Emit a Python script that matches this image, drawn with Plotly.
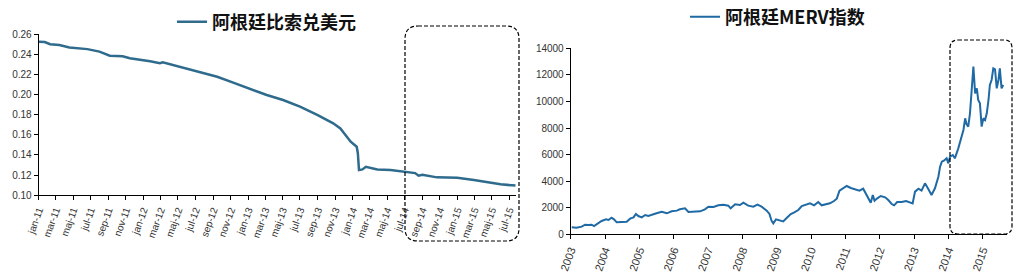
import plotly.graph_objects as go

W, H = 1020, 280

# ---------------- data ----------------
fx_dates = ["2011-01-01", "2011-01-22", "2011-02-10", "2011-03-14", "2011-04-18",
            "2011-06-20", "2011-08-01", "2011-09-06", "2011-10-21", "2011-11-15",
            "2012-01-25", "2012-02-28", "2012-03-09", "2012-05-07", "2012-07-16",
            "2012-09-15", "2012-11-10", "2013-01-10", "2013-03-07", "2013-05-03",
            "2013-07-01", "2013-09-01", "2013-10-25", "2013-11-19", "2013-12-17",
            "2013-12-25", "2014-01-15", "2014-01-19", "2014-01-23", "2014-02-04",
            "2014-02-16", "2014-03-13", "2014-03-28", "2014-05-13", "2014-06-16",
            "2014-07-10", "2014-08-07", "2014-08-19", "2014-09-01", "2014-10-22",
            "2015-01-01", "2015-02-28", "2015-04-28", "2015-06-01", "2015-07-24"]
fx_values = [0.2524, 0.2520, 0.2498, 0.2490, 0.2466,
             0.2450, 0.2425, 0.2385, 0.2380, 0.2360,
             0.2330, 0.2310, 0.2320, 0.2276, 0.2226,
             0.2176, 0.2117, 0.2051, 0.1995, 0.1945,
             0.1879, 0.1796, 0.1714, 0.1664, 0.1568,
             0.1532, 0.1482, 0.1417, 0.1250, 0.1257,
             0.1283, 0.1270, 0.1257, 0.1250, 0.1238,
             0.1234, 0.1220, 0.1194, 0.1204, 0.1178,
             0.1174, 0.1152, 0.1129, 0.1109, 0.1096]

fx_tickvals = ["2011-01-01", "2011-03-01", "2011-05-01", "2011-07-01", "2011-09-01", "2011-11-01",
               "2012-01-01", "2012-03-01", "2012-05-01", "2012-07-01", "2012-09-01", "2012-11-01",
               "2013-01-01", "2013-03-01", "2013-05-01", "2013-07-01", "2013-09-01", "2013-11-01",
               "2014-01-01", "2014-03-01", "2014-05-01", "2014-07-01", "2014-09-01", "2014-11-01",
               "2015-01-01", "2015-03-01", "2015-05-01", "2015-07-01"]
fx_ticktext = ["jan-11", "mar-11", "maj-11", "jul-11", "sep-11", "nov-11",
               "jan-12", "mar-12", "maj-12", "jul-12", "sep-12", "nov-12",
               "jan-13", "mar-13", "maj-13", "jul-13", "sep-13", "nov-13",
               "jan-14", "mar-14", "maj-14", "jul-14", "sep-14", "nov-14",
               "jan-15", "mar-15", "maj-15", "jul-15"]

merv_years = [2003.03, 2003.17, 2003.32, 2003.42, 2003.51, 2003.61, 2003.68, 2003.81, 2003.90,
              2004.03, 2004.10, 2004.19, 2004.26, 2004.34, 2004.49, 2004.63, 2004.73, 2004.83,
              2004.90, 2004.97, 2005.07, 2005.17, 2005.26, 2005.36, 2005.50, 2005.65, 2005.80,
              2005.94, 2006.09, 2006.18, 2006.33, 2006.43, 2006.57, 2006.77, 2006.91, 2007.01,
              2007.16, 2007.30, 2007.45, 2007.59, 2007.66, 2007.79, 2007.93, 2008.03, 2008.17,
              2008.32, 2008.44, 2008.56, 2008.71, 2008.79, 2008.85, 2008.90, 2008.98, 2009.08,
              2009.19, 2009.29, 2009.41, 2009.50, 2009.63, 2009.73, 2009.85, 2009.97, 2010.09,
              2010.21, 2010.31, 2010.44, 2010.55, 2010.67, 2010.75, 2010.83, 2010.92, 2011.04,
              2011.16, 2011.28, 2011.41, 2011.52, 2011.60, 2011.67, 2011.74, 2011.80, 2011.85,
              2011.93, 2012.03, 2012.16, 2012.25, 2012.35, 2012.42, 2012.51, 2012.64, 2012.77,
              2012.88, 2012.96, 2013.03, 2013.13, 2013.22, 2013.32, 2013.42, 2013.51, 2013.61,
              2013.71, 2013.76, 2013.81, 2013.87, 2013.95, 2014.00, 2014.05, 2014.13, 2014.19,
              2014.29, 2014.39, 2014.44, 2014.49, 2014.53, 2014.58, 2014.63, 2014.68, 2014.73,
              2014.78, 2014.83, 2014.87, 2014.92, 2014.97, 2015.02, 2015.07, 2015.12, 2015.17,
              2015.21, 2015.26, 2015.31, 2015.36, 2015.41, 2015.46, 2015.50, 2015.55, 2015.60]
merv_values = [525, 500, 575, 725, 700, 725, 625, 875, 1000,
               1125, 1075, 1250, 1125, 900, 925, 950, 1175, 1275,
               1530, 1375, 1275, 1450, 1375, 1475, 1580, 1700, 1580,
               1730, 1780, 1880, 1950, 1680, 1700, 1730, 1880, 2080,
               2055, 2180, 2230, 2155, 1955, 2255, 2205, 2380, 2155,
               2080, 2230, 2080, 1780, 1530, 1025, 825, 1125, 1025,
               975, 1225, 1530, 1630, 1830, 2130, 2205, 2330, 2180,
               2430, 2180, 2280, 2330, 2505, 2680, 3285, 3460, 3635,
               3485, 3385, 3285, 3435, 3085, 2707, 2380, 2958, 2530,
               2707, 2883, 2783, 2582, 2280, 2180, 2430, 2430, 2505,
               2380, 2330, 3210, 3435, 3285, 3837, 3385, 2958, 3460,
               4338, 5091, 5467, 5543, 5718, 5342, 5844, 5969, 5718,
               6471, 7349, 7851, 8729, 8303, 8102, 9106, 10862, 12618,
               10611, 10987, 10109, 9858, 8102, 8729, 8604, 9106, 10109,
               11238, 11615, 12493, 12417, 10987, 11615, 12493, 10987, 11238]

merv_tickvals = [2003, 2004, 2005, 2006, 2007, 2008, 2009, 2010, 2011, 2012, 2013, 2014, 2015]
merv_ticktext = ["2003", "2004", "2005", "2006", "2007", "2008", "2009",
                 "2010", "2011", "2012", "2013", "2014", "2015"]

# ---------------- layout helpers (pixel -> paper) ----------------
def px(x):
    return x / W

def py(y):
    return 1 - y / H

def rounded_box(x0, y0, x1, y1, r):
    rx, ry = r / W, r / H
    X0, X1 = px(x0), px(x1)
    Y0, Y1 = py(y0), py(y1)  # Y0 top, Y1 bottom
    return (f"M {X0+rx},{Y0} L {X1-rx},{Y0} Q {X1},{Y0} {X1},{Y0-ry} "
            f"L {X1},{Y1+ry} Q {X1},{Y1} {X1-rx},{Y1} "
            f"L {X0+rx},{Y1} Q {X0},{Y1} {X0},{Y1+ry} "
            f"L {X0},{Y0-ry} Q {X0},{Y0} {X0+rx},{Y0} Z")

fig = go.Figure()
fig.add_trace(go.Scatter(x=fx_dates, y=fx_values, mode="lines", name="阿根廷比索兑美元",
                         line=dict(color="#2e6b8c", width=2.5), xaxis="x", yaxis="y",
                         legend="legend"))
fig.add_trace(go.Scatter(x=merv_years, y=merv_values, mode="lines", name="阿根廷MERV指数",
                         line=dict(color="#1f6aa5", width=2), xaxis="x2", yaxis="y2",
                         legend="legend2"))

tickfont = dict(family="Liberation Sans, Arial", size=10, color="#333333")
axis_common = dict(showline=True, linecolor="black", linewidth=1, ticks="outside",
                   ticklen=4, tickcolor="black", tickwidth=1, showgrid=False,
                   zeroline=False, tickfont=tickfont, automargin=False)

legend_font = dict(family="Noto Sans CJK SC", size=18, color="#111111", weight="bold")

fig.update_layout(
    width=W, height=H,
    margin=dict(l=0, r=0, t=0, b=0, autoexpand=False),
    paper_bgcolor="white", plot_bgcolor="white",
    showlegend=True,
    xaxis=dict(domain=[px(38.7), px(515.7)], anchor="y", type="date",
               range=["2011-01-01", "2015-07-24"], tickmode="array",
               tickvals=fx_tickvals, ticktext=fx_ticktext, tickangle=-70,
               **axis_common),
    yaxis=dict(domain=[py(195.3), py(34)], anchor="x", range=[0.10, 0.26],
               dtick=0.02, tick0=0.10, tickformat=".2f", **axis_common),
    xaxis2=dict(domain=[px(570.7), px(1006.7)], anchor="y2", range=[2003, 2015.7],
                tickmode="array", tickvals=merv_tickvals, ticktext=merv_ticktext,
                tickangle=-70, **{**axis_common, "tickfont": dict(tickfont, size=11)}),
    yaxis2=dict(domain=[py(234.3), py(48.3)], anchor="x2", range=[0, 14000],
                dtick=2000, tickformat="d", **axis_common),
    legend=dict(x=px(172), y=py(22), xanchor="left", yanchor="middle",
                bgcolor="rgba(0,0,0,0)", font=legend_font, itemwidth=30),
    legend2=dict(x=px(685), y=py(17), xanchor="left", yanchor="middle",
                 bgcolor="rgba(0,0,0,0)", font=legend_font, itemwidth=30),
    shapes=[
        dict(type="path", xref="paper", yref="paper",
             path=rounded_box(405, 26, 519, 241, 13),
             line=dict(color="black", width=1.2, dash="4px,2px")),
        dict(type="path", xref="paper", yref="paper",
             path=rounded_box(950, 40, 1012, 234, 8),
             line=dict(color="black", width=1.2, dash="4px,2px")),
    ],
)

fig.write_html("out.html")
